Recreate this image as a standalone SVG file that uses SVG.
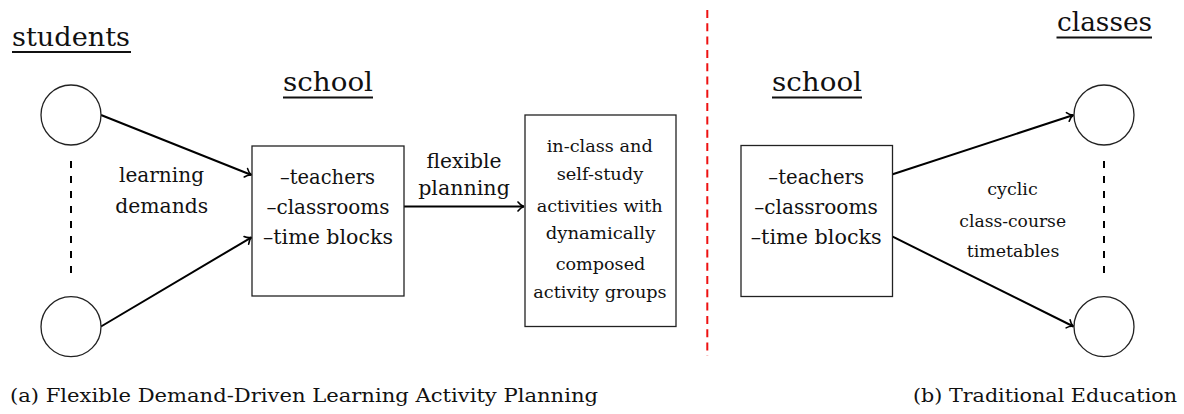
<svg xmlns="http://www.w3.org/2000/svg" width="1184" height="414" viewBox="0 0 1184 414">
  <style>
    text { font-family: 'DejaVu Serif', serif; fill: #111; text-anchor: middle; }
    .h { font-size: 26px; }
    .b { font-size: 20px; }
    .s { font-size: 17px; }
    .c { font-size: 16px; }
    .cap { font-size: 19px; text-anchor: start; }
    .ul { stroke: #111; stroke-width: 2; }
    .node { fill: #fff; stroke: #222; stroke-width: 1.3; }
    .edge { stroke: #000; stroke-width: 2; fill: none; marker-end: url(#tip); }
    .dash { stroke: #000; stroke-width: 2; stroke-dasharray: 7 8; }
    .red { stroke: #ee1111; stroke-width: 2; stroke-dasharray: 8 5.3; }
  </style>
  <defs>
    <marker id="tip" markerUnits="userSpaceOnUse" viewBox="-8 -6 10 12" refX="0" refY="0" markerWidth="10" markerHeight="12" orient="auto" overflow="visible">
      <path d="M-6,-4.5 C-4,-1.8 -2,-0.5 0,0 C-2,0.5 -4,1.8 -6,4.5" fill="none" stroke="#000" stroke-width="1.6" stroke-linecap="round"/>
    </marker>
  </defs>

  <!-- headings -->
  <g id="heading-students">
    <text class="h" x="71" y="46" textLength="118" lengthAdjust="spacingAndGlyphs">students</text>
    <line class="ul" x1="12" y1="52" x2="131" y2="52"/>
  </g>
  <g id="heading-school-a">
    <text class="h" x="328" y="91" textLength="90" lengthAdjust="spacingAndGlyphs">school</text>
    <line class="ul" x1="283" y1="97.5" x2="373" y2="97.5"/>
  </g>
  <g id="heading-school-b">
    <text class="h" x="817" y="91" textLength="90" lengthAdjust="spacingAndGlyphs">school</text>
    <line class="ul" x1="772" y1="97.5" x2="862" y2="97.5"/>
  </g>
  <g id="heading-classes">
    <text class="h" x="1104.5" y="31" textLength="95" lengthAdjust="spacingAndGlyphs">classes</text>
    <line class="ul" x1="1056.5" y1="37.5" x2="1152" y2="37.5"/>
  </g>

  <!-- connectors -->
  <g id="connectors">
    <line class="dash" x1="71" y1="161" x2="71" y2="280"/>
    <line class="dash" x1="1104" y1="161" x2="1104" y2="280"/>
    <line class="red" x1="707.3" y1="10" x2="707.3" y2="356"/>
    <path class="edge" d="M101,115 L251.5,175"/>
    <path class="edge" d="M101,326.5 L251.5,237.3"/>
    <path class="edge" d="M404,206.5 L524,206.5"/>
    <path class="edge" d="M892.7,174.3 L1073.5,115"/>
    <path class="edge" d="M892.7,236.7 L1073.5,326.5"/>
  </g>

  <!-- edge labels -->
  <g id="label-learning-demands">
    <text class="b" x="161.5" y="181.7" textLength="85" lengthAdjust="spacingAndGlyphs">learning</text>
    <text class="b" x="161.7" y="213.3" textLength="93" lengthAdjust="spacingAndGlyphs">demands</text>
  </g>
  <g id="label-flexible-planning">
    <text class="b" x="464" y="168.3" textLength="75" lengthAdjust="spacingAndGlyphs">flexible</text>
    <text class="b" x="464" y="195" textLength="91.7" lengthAdjust="spacingAndGlyphs">planning</text>
  </g>
  <g id="label-cyclic">
    <text class="c" x="1012.5" y="195" textLength="50.3" lengthAdjust="spacingAndGlyphs">cyclic</text>
    <text class="c" x="1012.7" y="227.3" textLength="106.7" lengthAdjust="spacingAndGlyphs">class-course</text>
    <text class="c" x="1013" y="257.3" textLength="92.7" lengthAdjust="spacingAndGlyphs">timetables</text>
  </g>

  <!-- nodes -->
  <g id="student-top"><circle class="node" cx="71" cy="115" r="30"/></g>
  <g id="student-bottom"><circle class="node" cx="71" cy="326.7" r="30"/></g>
  <g id="class-top"><circle class="node" cx="1104" cy="115" r="30"/></g>
  <g id="class-bottom"><circle class="node" cx="1104" cy="326.7" r="30"/></g>

  <g id="school-a">
    <rect class="node" x="252" y="146" width="152" height="150"/>
    <text class="b" x="327.5" y="184" textLength="95" lengthAdjust="spacingAndGlyphs">–teachers</text>
    <text class="b" x="328" y="214" textLength="123" lengthAdjust="spacingAndGlyphs">–classrooms</text>
    <text class="b" x="328" y="243.5" textLength="130" lengthAdjust="spacingAndGlyphs">–time blocks</text>
  </g>
  <g id="activities">
    <rect class="node" x="525" y="115" width="151" height="211.5"/>
    <text class="s" x="599.7" y="152.3" textLength="106" lengthAdjust="spacingAndGlyphs">in-class and</text>
    <text class="s" x="600" y="180" textLength="86.7" lengthAdjust="spacingAndGlyphs">self-study</text>
    <text class="s" x="599.7" y="212.3" textLength="126" lengthAdjust="spacingAndGlyphs">activities with</text>
    <text class="s" x="600.5" y="238.5" textLength="109.7" lengthAdjust="spacingAndGlyphs">dynamically</text>
    <text class="s" x="600.5" y="270" textLength="89.7" lengthAdjust="spacingAndGlyphs">composed</text>
    <text class="s" x="600" y="298.3" textLength="133.3" lengthAdjust="spacingAndGlyphs">activity groups</text>
  </g>
  <g id="school-b">
    <rect class="node" x="741" y="145.5" width="151.5" height="151"/>
    <text class="b" x="816.2" y="183.5" textLength="95.7" lengthAdjust="spacingAndGlyphs">–teachers</text>
    <text class="b" x="816" y="214" textLength="123.7" lengthAdjust="spacingAndGlyphs">–classrooms</text>
    <text class="b" x="816.2" y="244" textLength="131" lengthAdjust="spacingAndGlyphs">–time blocks</text>
  </g>

  <!-- captions -->
  <g id="caption-a">
    <text class="cap" x="10" y="402" textLength="588" lengthAdjust="spacingAndGlyphs">(a) Flexible Demand-Driven Learning Activity Planning</text>
  </g>
  <g id="caption-b">
    <text class="cap" x="913" y="402" textLength="264" lengthAdjust="spacingAndGlyphs">(b) Traditional Education</text>
  </g>
</svg>
